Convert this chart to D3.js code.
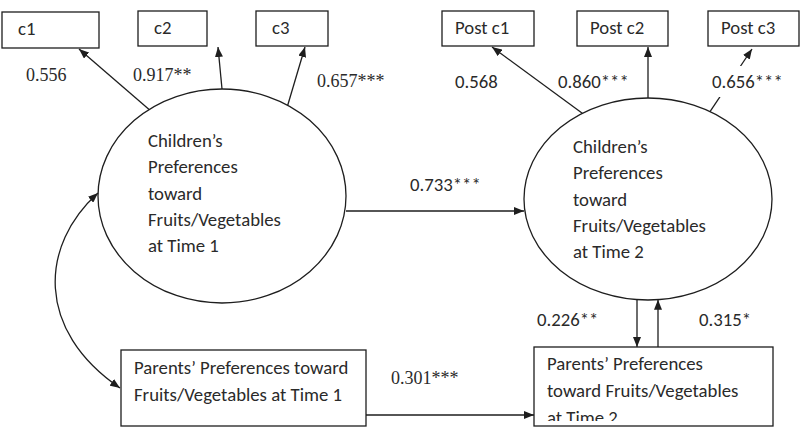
<!DOCTYPE html>
<html>
<head>
<meta charset="utf-8">
<script src="https://cdn.jsdelivr.net/npm/d3@7"></script>
<style>
  body { margin: 0; background: #fff; }
  svg { display: block; }
</style>
</head>
<body>
<svg id="chart"></svg>
<script>
const width = 800;
const height = 428;

// measurement labels and loadings
const indicatorsT1 = ["c1", "c2", "c3"];
const loadingsT1 = ["0.556", "0.917**", "0.657***"];
const indicatorsT2 = ["Post c1", "Post c2", "Post c3"];
const loadingsT2 = ["0.568", "0.860***", "0.656***"];

// latent / observed constructs
const childT1 = ["Children\u2019s", "Preferences", "toward", "Fruits/Vegetables", "at Time 1"];
const childT2 = ["Children\u2019s", "Preferences", "toward", "Fruits/Vegetables", "at Time 2"];
const parentT1 = ["Parents\u2019 Preferences toward", "Fruits/Vegetables at Time 1"];
const parentT2 = ["Parents\u2019 Preferences", "toward Fruits/Vegetables", "at Time 2"];

// structural paths
const childStability = "0.733***";
const parentStability = "0.301***";
const childToParent = "0.226**";
const parentToChild = "0.315*";

const sans = "Carlito, Calibri, 'Open Sans', sans-serif";
const serif = "'Liberation Serif', 'Times New Roman', serif";
const ink = "#1e1e1e";
const textInk = "#2a2a2a";

const svg = d3.select("#chart").attr("width", width).attr("height", height);

// size the sans face so "Fruits/Vegetables" is about 133px wide, as in the original
const probe = svg
  .append("text")
  .attr("font-family", sans)
  .attr("font-size", 100)
  .text("Fruits/Vegetables");
const sansSize = (100 * 133) / probe.node().getComputedTextLength();
probe.remove();

const defs = svg.append("defs");
defs
  .append("marker")
  .attr("id", "head")
  .attr("markerUnits", "userSpaceOnUse")
  .attr("viewBox", "0 0 10 8")
  .attr("markerWidth", 10)
  .attr("markerHeight", 8)
  .attr("refX", 10)
  .attr("refY", 4)
  .attr("orient", "auto-start-reverse")
  .append("path")
  .attr("d", "M0,0 L10,4 L0,8 z")
  .attr("fill", ink);

// layout of the nodes
const ell1 = { cx: 222, cy: 196, rx: 124, ry: 107 };
const ell2 = { cx: 648, cy: 199, rx: 124, ry: 101 };
const boxesT1 = [
  { x: 2, y: 12, w: 97, h: 36 },
  { x: 138, y: 11, w: 69, h: 35 },
  { x: 256, y: 11, w: 72, h: 35 },
];
const boxesT2 = [
  { x: 442, y: 11, w: 92, h: 35 },
  { x: 577, y: 11, w: 91, h: 35 },
  { x: 708, y: 11, w: 91, h: 35 },
];
const box3 = { x: 121, y: 350, w: 245, h: 76 };
const box4 = { x: 534, y: 347, w: 239, h: 79 };

// point on an ellipse at a given angle (degrees, 0 = right, -90 = top)
function onEll(e, deg) {
  const a = (deg * Math.PI) / 180;
  return [e.cx + e.rx * Math.cos(a), e.cy + e.ry * Math.sin(a)];
}

function arrow(p0, p1) {
  svg
    .append("line")
    .attr("x1", p0[0])
    .attr("y1", p0[1])
    .attr("x2", p1[0])
    .attr("y2", p1[1])
    .attr("stroke", ink)
    .attr("stroke-width", 1.3)
    .attr("marker-end", "url(#head)");
}

function label(txt, x, y, font, anchor) {
  return svg
    .append("text")
    .attr("x", x)
    .attr("y", y)
    .attr("text-anchor", anchor || "start")
    .attr("font-family", font)
    .attr("font-size", font === serif ? 18 : sansSize)
    .attr("fill", textInk)
    .text(txt);
}

function lines(arr, x, y0, step, clip) {
  const t = svg
    .append("text")
    .attr("font-family", sans)
    .attr("font-size", sansSize)
    .attr("fill", textInk);
  if (clip) t.attr("clip-path", clip);
  t.selectAll("tspan")
    .data(arr)
    .enter()
    .append("tspan")
    .attr("x", x)
    .attr("y", (d, i) => y0 + i * step)
    .text(d => d);
}

function rect(b) {
  svg
    .append("rect")
    .attr("x", b.x)
    .attr("y", b.y)
    .attr("width", b.w)
    .attr("height", b.h)
    .attr("fill", "#fff")
    .attr("stroke", ink)
    .attr("stroke-width", 1.3);
}

// indicator arrows, time 1
const anglesT1 = [-126, -90, -58];
const tipsT1 = [[79, 49], [218, 47], [305, 47]];
anglesT1.forEach((a, i) => arrow(onEll(ell1, a), tipsT1[i]));

// indicator arrows, time 2
const anglesT2 = [-122, -90, -60];
const tipsT2 = [[492, 47], [648, 47], [752, 49]];
anglesT2.forEach((a, i) => arrow(onEll(ell2, a), tipsT2[i]));

// boxes on top
boxesT1.forEach((b, i) => {
  rect(b);
  label(indicatorsT1[i], b.x + 16, b.y + 23, sans);
});
boxesT2.forEach((b, i) => {
  rect(b);
  label(indicatorsT2[i], b.x + 13, b.y + 23, sans);
});

// loading labels
const loadPosT1 = [[26, 81], [133, 81], [317, 87]];
loadingsT1.forEach((d, i) => label(d, loadPosT1[i][0], loadPosT1[i][1], serif));

const loadPosT2 = [[455, 88], [558, 88], [712, 88]];
loadingsT2.forEach((d, i) => {
  const t = label(d, loadPosT2[i][0], loadPosT2[i][1], sans);
  if (i === 2) {
    const bb = t.node().getBBox();
    svg
      .insert("rect", () => t.node())
      .attr("x", bb.x - 2)
      .attr("y", bb.y - 4)
      .attr("width", bb.width + 4)
      .attr("height", bb.height + 8)
      .attr("fill", "#fff");
  }
});

// latent ellipses
[ell1, ell2].forEach(e => {
  svg
    .append("ellipse")
    .attr("cx", e.cx)
    .attr("cy", e.cy)
    .attr("rx", e.rx)
    .attr("ry", e.ry)
    .attr("fill", "none")
    .attr("stroke", ink)
    .attr("stroke-width", 1.3);
});
lines(childT1, 148, 147, 26.3);
lines(childT2, 573, 153, 26.3);

// stability path between children's constructs
arrow([ell1.cx + ell1.rx, 211], [ell2.cx - ell2.rx, 211]);
label(childStability, 410, 191, sans);

// parents' boxes
rect(box3);
lines(parentT1, 134, 374, 27);

rect(box4);
defs
  .append("clipPath")
  .attr("id", "clip4")
  .append("rect")
  .attr("x", box4.x)
  .attr("y", box4.y)
  .attr("width", box4.w)
  .attr("height", box4.h - 5);
lines(parentT2, 547, 370, 27, "url(#clip4)");

// parent stability
arrow([box3.x + box3.w, 415], [box4.x, 415]);
label(parentStability, 391, 384, serif);

// child <-> parent at time 2
const ellBottom = x => ell2.cy + ell2.ry * Math.sqrt(1 - ((x - ell2.cx) / ell2.rx) ** 2);
arrow([637, ellBottom(637)], [637, box4.y]);
arrow([658, box4.y], [658, ellBottom(658)]);
label(childToParent, 537, 326, sans);
label(parentToChild, 699, 326, sans);

// covariance between children's and parents' preferences at time 1
svg
  .append("path")
  .attr("d", "M98,193 C40,245 35,330 120,388")
  .attr("fill", "none")
  .attr("stroke", ink)
  .attr("stroke-width", 1.3)
  .attr("marker-start", "url(#head)")
  .attr("marker-end", "url(#head)");
</script>
</body>
</html>
